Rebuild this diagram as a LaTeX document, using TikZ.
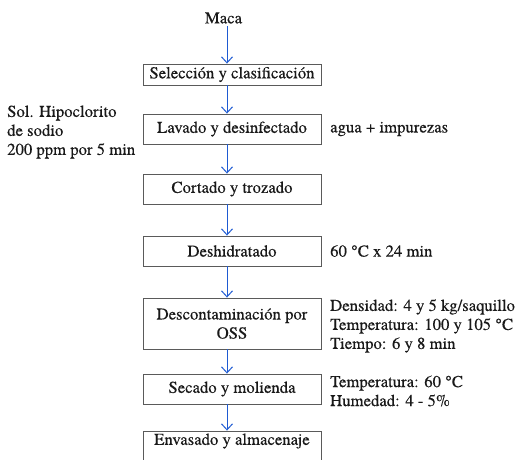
\documentclass[tikz,border=0pt]{standalone}
\usepackage{fontspec}
\setmainfont{TeX Gyre Termes}[UprightFeatures={FakeBold=0.25}]
\usetikzlibrary{arrows.meta}
\definecolor{arrblue}{RGB}{30,90,210}
\definecolor{boxgray}{HTML}{5A5A5A}
\begin{document}
\begin{tikzpicture}[x=1pt,y=-1pt,
  every node/.style={font=\fontsize{16.7}{19}\selectfont, inner sep=0pt, text=black!90},
  stepbox/.style={draw=boxgray, line width=0.9pt, minimum width=178pt, align=center},
  note/.style={anchor=west, align=left},
  arr/.style={arrblue, line width=1pt, -{Straight Barb[length=6pt,width=11pt]}}]
\useasboundingbox (0,0) rectangle (516,459);
\coordinate (ax) at (227,0);
\node (maca) at (223.5,18) {Maca};
\node[stepbox, minimum height=21pt] (b1) at (232,74.5) {Selección y clasificación};
\node[stepbox, minimum height=30pt] (b2) at (232,129) {Lavado y desinfectado};
\node[stepbox, minimum height=30pt] (b3) at (232,189) {Cortado y trozado};
\node[stepbox, minimum height=30pt] (b4) at (232,251) {Deshidratado};
\node[stepbox, minimum height=51pt] (b5) at (232,323.5) {Descontaminación por\\OSS};
\node[stepbox, minimum height=30pt] (b6) at (232,389) {Secado y molienda};
\node[stepbox, minimum height=36pt] (b7) at (232,449) {};
\node (b7t) at (232,441) {Envasado y almacenaje};
\coordinate (mb) at (227,26);
\draw[arr] (mb) -- (b1.north -| ax);
\draw[arr] (b1.south -| ax) -- (b2.north -| ax);
\draw[arr] (b2.south -| ax) -- (b3.north -| ax);
\draw[arr] (b3.south -| ax) -- (b4.north -| ax);
\draw[arr] (b4.south -| ax) -- (b5.north -| ax);
\draw[arr] (b5.south -| ax) -- (b6.north -| ax);
\draw[arr] (b6.south -| ax) -- (b7.north -| ax);
\node[note] (sol) at (7,132) {Sol. Hipoclorito\\de sodio\\200 ppm por 5 min};
\node[note] (agua) at (330,129) {agua + impurezas};
\node[note] (t60) at (330,251) {60 °C x 24 min};
\node[note] (dens) at (330,326) {Densidad: 4 y 5 kg/saquillo\\Temperatura: 100 y 105 °C\\Tiempo: 6 y 8 min};
\node[note] (sec) at (330,391) {Temperatura: 60 °C\\Humedad: 4 - 5\%};
\end{tikzpicture}
\end{document}
